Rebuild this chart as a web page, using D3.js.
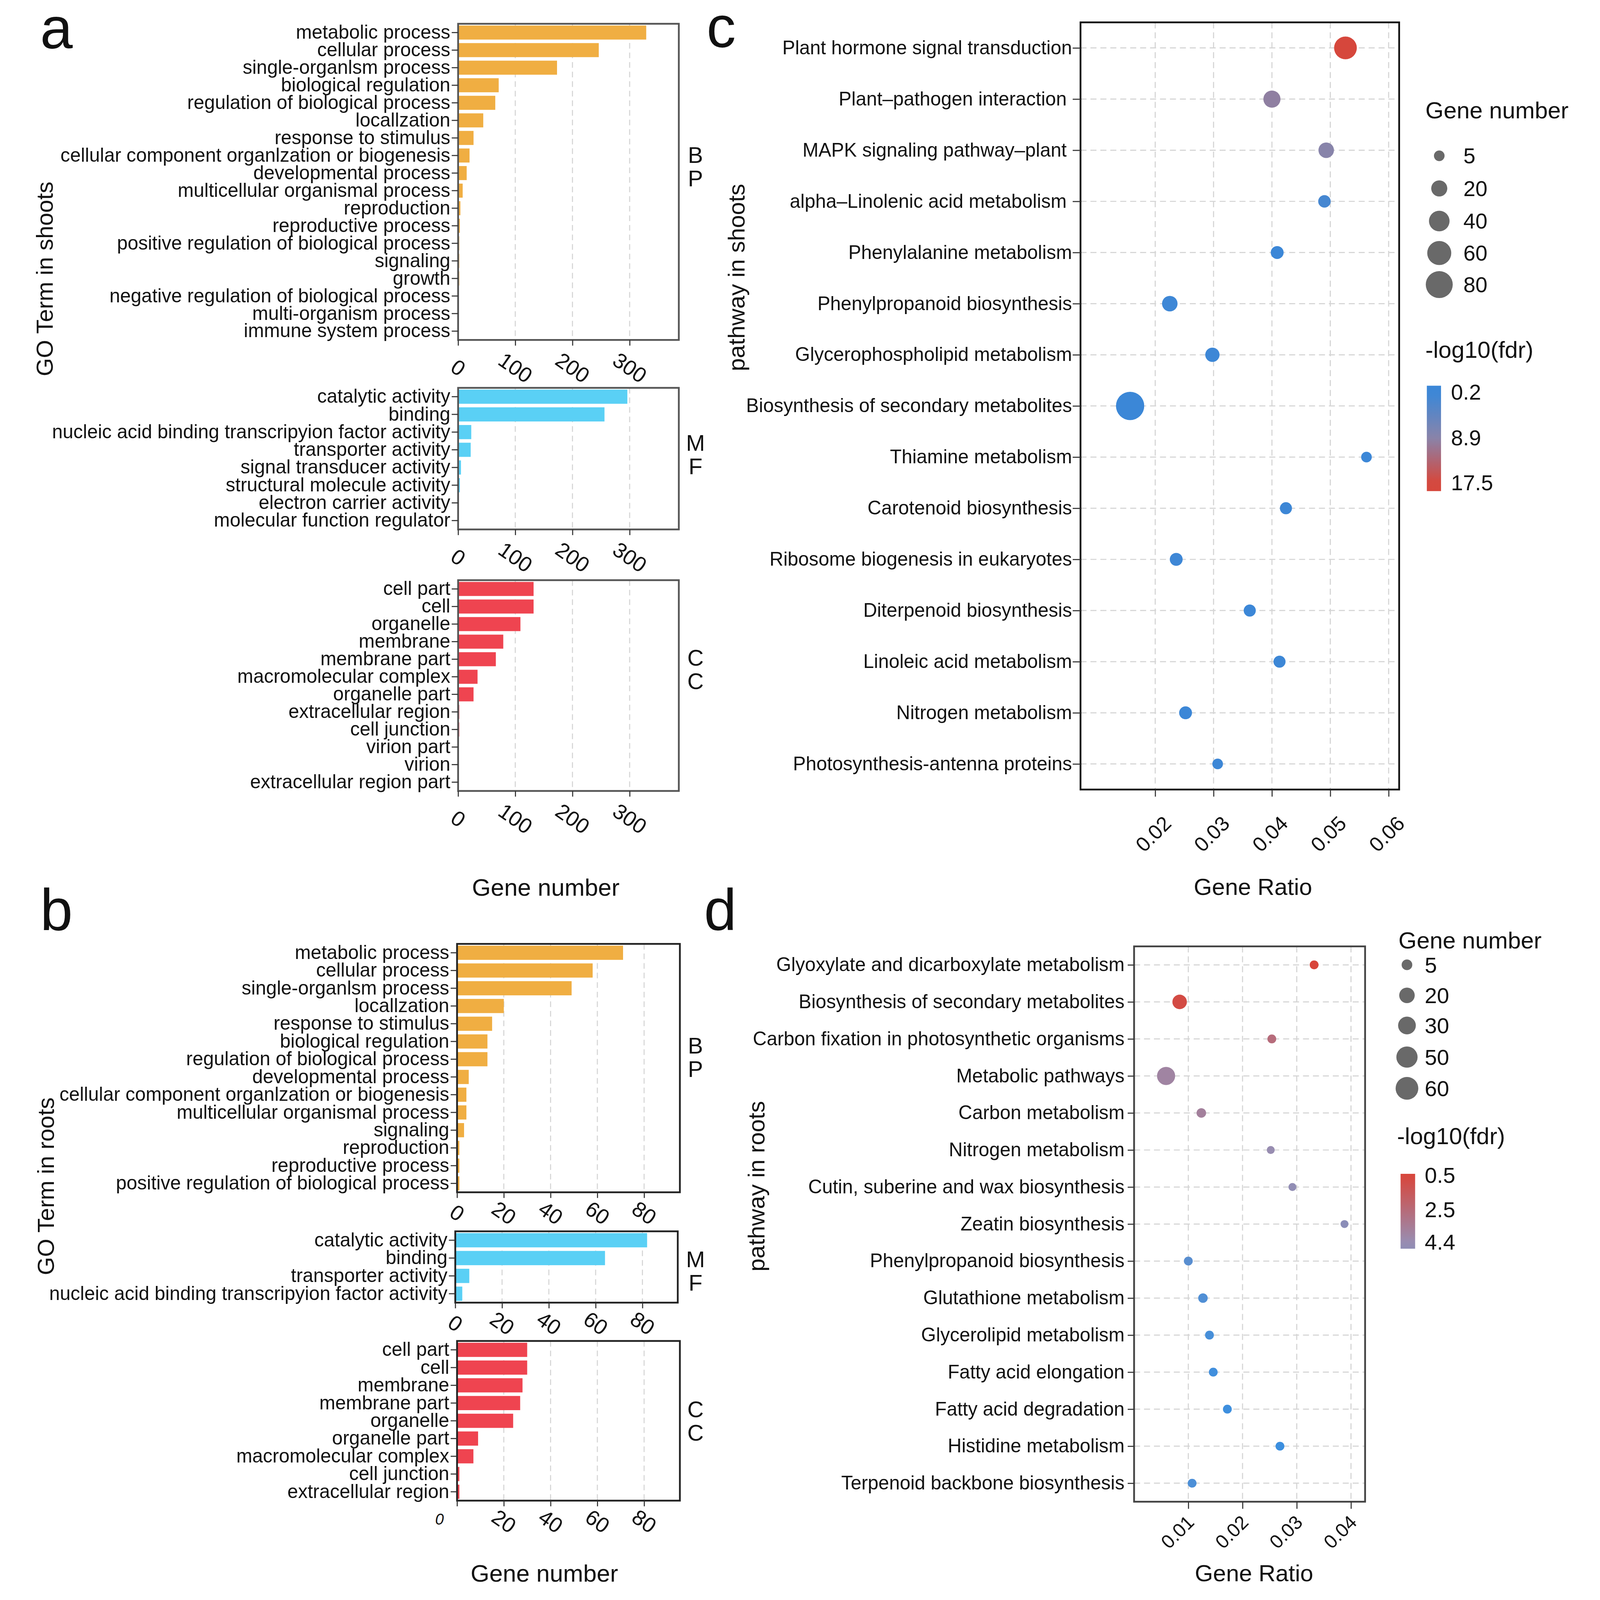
<!DOCTYPE html>
<html>
<head>
<meta charset="utf-8">
<script src="https://cdn.jsdelivr.net/npm/d3@7"></script>
<style>
  html, body { margin: 0; padding: 0; background: #fff; overflow: hidden; }
  svg { display: block; width: 100vw; height: 100vh; }
  text { font-family: "Liberation Sans", Arial, sans-serif; fill: #111; }
</style>
</head>
<body>
<div id="chart"></div>
<script>
// ---- data: GO terms in shoots (a) ----
var bpShootTerms = ["metabolic process", "cellular process", "single-organlsm process", "biological regulation",
  "regulation of biological process", "locallzation", "response to stimulus",
  "cellular component organlzation or biogenesis", "developmental process", "multicellular organismal process",
  "reproduction", "reproductive process", "positive regulation of biological process", "signaling", "growth",
  "negative regulation of biological process", "multi-organism process", "immune system process"];
var bpShootCounts = [329, 246, 173, 71, 65, 44, 27, 20, 15, 8, 4, 3, 2, 2, 2, 1, 1, 1];

var mfShootTerms = ["catalytic activity", "binding", "nucleic acid binding transcripyion factor activity",
  "transporter activity", "signal transducer activity", "structural molecule activity",
  "electron carrier activity", "molecular function regulator"];
var mfShootCounts = [296, 256, 23, 22, 5, 3, 1, 1];

var ccShootTerms = ["cell part", "cell", "organelle", "membrane", "membrane part", "macromolecular complex",
  "organelle part", "extracellular region", "cell junction", "virion part", "virion", "extracellular region part"];
var ccShootCounts = [132, 132, 109, 79, 66, 34, 27, 2, 2, 1, 1, 1];

// ---- data: GO terms in roots (b) ----
var bpRootTerms = ["metabolic process", "cellular process", "single-organlsm process", "locallzation",
  "response to stimulus", "biological regulation", "regulation of biological process", "developmental process",
  "cellular component organlzation or biogenesis", "multicellular organismal process", "signaling",
  "reproduction", "reproductive process", "positive regulation of biological process"];
var bpRootCounts = [71, 58, 49, 20, 15, 13, 13, 5, 4, 4, 3, 1, 1, 1];

var mfRootTerms = ["catalytic activity", "binding", "transporter activity",
  "nucleic acid binding transcripyion factor activity"];
var mfRootCounts = [82, 64, 6, 3];

var ccRootTerms = ["cell part", "cell", "membrane", "membrane part", "organelle", "organelle part",
  "macromolecular complex", "cell junction", "extracellular region"];
var ccRootCounts = [30, 30, 28, 27, 24, 9, 7, 1, 1];

var shootTicks = [0, 100, 200, 300];
var rootTicks = [0, 20, 40, 60, 80];

// ---- data: KEGG pathways in shoots (c) ----
var shootPathways = ["Plant hormone signal transduction", "Plant\u2013pathogen interaction\u00a0",
  "MAPK signaling pathway\u2013plant\u00a0", "alpha\u2013Linolenic acid metabolism\u00a0", "Phenylalanine metabolism",
  "Phenylpropanoid biosynthesis", "Glycerophospholipid metabolism", "Biosynthesis of secondary metabolites",
  "Thiamine metabolism", "Carotenoid biosynthesis", "Ribosome biogenesis in eukaryotes",
  "Diterpenoid biosynthesis", "Linoleic acid metabolism", "Nitrogen metabolism", "Photosynthesis-antenna proteins"];
var shootRatio = [0.0526, 0.0400, 0.0493, 0.0490, 0.0409, 0.0225, 0.0298, 0.0157, 0.0562, 0.0424, 0.0236,
  0.0362, 0.0413, 0.0252, 0.0307];
var shootGenes = [52, 24, 18, 9, 10, 18, 14, 90, 5, 8, 10, 8, 8, 10, 5];
var shootFdr = [17.5, 9.6, 8.9, 1.5, 0.4, 0.6, 0.5, 0.3, 0.4, 0.5, 0.6, 0.4, 0.5, 0.4, 0.5];
var shootRatioTicks = [0.02, 0.03, 0.04, 0.05, 0.06];
var shootSizeBreaks = [5, 20, 40, 60, 80];
var shootFdrBreaks = [0.2, 8.9, 17.5];

// ---- data: KEGG pathways in roots (d) ----
var rootPathways = ["Glyoxylate and dicarboxylate metabolism", "Biosynthesis of secondary metabolites",
  "Carbon fixation in photosynthetic organisms", "Metabolic pathways", "Carbon metabolism",
  "Nitrogen metabolism", "Cutin, suberine and wax biosynthesis", "Zeatin biosynthesis",
  "Phenylpropanoid biosynthesis", "Glutathione metabolism", "Glycerolipid metabolism",
  "Fatty acid elongation", "Fatty acid degradation", "Histidine metabolism", "Terpenoid backbone biosynthesis"];
var rootRatio = [0.0332, 0.0084, 0.0254, 0.0059, 0.0124, 0.0252, 0.0292, 0.0388, 0.0100, 0.0127, 0.0139,
  0.0146, 0.0172, 0.0269, 0.0107];
var rootGenes = [2, 16, 2, 32, 3, 1, 1, 1, 2, 3, 2, 2, 2, 2, 2];
var rootFdr = [0.5, 0.8, 2.6, 3.9, 3.7, 4.4, 4.7, 5.0, 7.2, 7.6, 8.0, 8.3, 8.4, 8.5, 7.8];
var rootRatioTicks = [0.01, 0.02, 0.03, 0.04];
var rootSizeBreaks = [5, 20, 30, 50, 60];
var rootFdrBreaks = [0.5, 2.5, 4.4];

var W = 4451, H = 4509;
var svg = d3.select("#chart").append("svg")
  .attr("viewBox", "0 0 " + W + " " + H)
  .attr("preserveAspectRatio", "xMidYMid meet");
var defs = svg.append("defs");

function addText(x, y, str, size, opt) {
  opt = opt || {};
  var t = svg.append("text").attr("font-size", size).attr("text-anchor", opt.anchor || "start").text(str);
  if (opt.rotate) t.attr("transform", "translate(" + x + "," + y + ") rotate(" + opt.rotate + ")").attr("dy", "0.35em");
  else t.attr("x", x).attr("y", y).attr("dy", opt.dy == null ? "0.35em" : opt.dy);
  return t;
}

function barPanel(terms, counts, o) {
  var g = svg.append("g");
  var x = d3.scaleLinear().domain([0, o.max]).range([o.x0, o.x1]);
  var y = d3.scaleBand().domain(terms).range([o.y0, o.y1]).paddingInner(0.2).paddingOuter(0.1);

  g.selectAll(".grid").data(o.ticks.filter(function(t){ return t > 0; })).enter().append("line")
    .attr("x1", function(d){ return x(d); }).attr("x2", function(d){ return x(d); })
    .attr("y1", o.y0).attr("y2", o.y1)
    .attr("stroke", "#d6d6d6").attr("stroke-width", 3).attr("stroke-dasharray", "16,11");

  g.selectAll(".bar").data(terms).enter().append("rect")
    .attr("x", x(0))
    .attr("y", function(d){ return y(d); })
    .attr("width", function(d, i){ return x(counts[i]) - x(0); })
    .attr("height", y.bandwidth())
    .attr("fill", o.color);

  g.append("rect").attr("x", o.x0).attr("y", o.y0).attr("width", o.x1 - o.x0).attr("height", o.y1 - o.y0)
    .attr("fill", "none").attr("stroke", o.frame).attr("stroke-width", 5);

  var ya = g.append("g").attr("transform", "translate(" + o.x0 + ",0)")
    .call(d3.axisLeft(y).tickSize(18).tickPadding(4));
  ya.attr("font-size", 54).attr("font-family", null).attr("color", "#333");
  ya.select(".domain").remove();
  ya.selectAll("line").attr("stroke-width", 3);

  var xa = g.append("g").attr("transform", "translate(0," + o.y1 + ")")
    .call(d3.axisBottom(x).tickValues(o.ticks).tickSize(16).tickFormat(d3.format("d")));
  xa.attr("font-size", 60).attr("font-family", null).attr("color", "#333");
  xa.select(".domain").remove();
  xa.selectAll("line").attr("stroke-width", 3);
  xa.selectAll("text").attr("y", null).attr("dy", "0.35em").attr("text-anchor", "middle")
    .attr("transform", "translate(0," + o.labelDy + ") rotate(35)");
  if (o.smallZero) {
    xa.selectAll(".tick").filter(function(d){ return d === 0; }).select("text")
      .attr("font-size", 44).attr("font-style", "italic")
      .attr("transform", "translate(-50,52)");
  }

  var cy = (o.y0 + o.y1) / 2 + o.stripDy;
  addText(1931, cy - 33, o.strip[0], 64, {anchor: "middle"});
  addText(1931, cy + 33, o.strip[1], 64, {anchor: "middle"});
}

function dotPanel(names, ratios, genes, fdr, o) {
  var g = svg.append("g");
  var x = d3.scaleLinear().domain(o.xdom).range([o.x0, o.x1]);
  var y = d3.scalePoint().domain(names).range([o.y0, o.y1]).padding(0.5);

  g.selectAll(".vgrid").data(o.ticks).enter().append("line")
    .attr("x1", function(d){ return x(d); }).attr("x2", function(d){ return x(d); })
    .attr("y1", o.y0).attr("y2", o.y1)
    .attr("stroke", "#d4d4d4").attr("stroke-width", 3).attr("stroke-dasharray", "17,11");
  g.selectAll(".hgrid").data(names).enter().append("line")
    .attr("x1", o.x0).attr("x2", o.x1)
    .attr("y1", function(d){ return y(d); }).attr("y2", function(d){ return y(d); })
    .attr("stroke", "#d4d4d4").attr("stroke-width", 3).attr("stroke-dasharray", "17,11");

  g.selectAll(".dot").data(names).enter().append("circle")
    .attr("cx", function(d, i){ return x(ratios[i]); })
    .attr("cy", function(d){ return y(d); })
    .attr("r", function(d, i){ return o.size(genes[i]); })
    .attr("fill", function(d, i){ return o.color(fdr[i]); });

  g.append("rect").attr("x", o.x0).attr("y", o.y0).attr("width", o.x1 - o.x0).attr("height", o.y1 - o.y0)
    .attr("fill", "none").attr("stroke", o.frame).attr("stroke-width", 5);

  var ya = g.append("g").attr("transform", "translate(" + o.x0 + ",0)")
    .call(d3.axisLeft(y).tickSize(o.ytick).tickPadding(o.ypad));
  ya.attr("font-size", 54).attr("font-family", null).attr("color", "#333");
  ya.select(".domain").remove();
  ya.selectAll("line").attr("stroke-width", 3);

  var xa = g.append("g").attr("transform", "translate(0," + o.y1 + ")")
    .call(d3.axisBottom(x).tickValues(o.ticks).tickSize(20).tickFormat(d3.format(".2f")));
  xa.attr("font-size", o.xfs).attr("font-family", null).attr("color", "#333");
  xa.select(".domain").remove();
  xa.selectAll("line").attr("stroke-width", 3);
  xa.selectAll("text").attr("y", null).attr("dy", "0.35em").attr("text-anchor", "end")
    .attr("transform", "translate(" + o.xlab[0] + "," + o.xlab[1] + ") rotate(-45)");
}

function sizeLegend(vals, scale, o) {
  addText(o.x, o.titleY, "Gene number", 66);
  var g = svg.append("g");
  g.selectAll("circle").data(vals).enter().append("circle")
    .attr("cx", o.cx).attr("cy", function(d, i){ return o.ys[i]; })
    .attr("r", function(d){ return scale(d); }).attr("fill", "#696969");
  g.selectAll("text").data(vals).enter().append("text")
    .attr("x", o.lx).attr("y", function(d, i){ return o.ys[i]; }).attr("dy", "0.35em")
    .attr("font-size", o.fs).text(function(d){ return d; });
}

function colorLegend(breaks, color, o) {
  addText(o.x, o.titleY, "-log10(fdr)", 66);
  var pos = d3.scaleLinear().domain([breaks[0], breaks[breaks.length - 1]]).range([o.labY0, o.labY1]);
  var grad = defs.append("linearGradient").attr("id", o.id).attr("x1", 0).attr("y1", 0).attr("x2", 0).attr("y2", 1);
  d3.range(0, 1.0001, 0.1).forEach(function(t){
    var v = pos.invert(o.barY0 + t * (o.barY1 - o.barY0));
    grad.append("stop").attr("offset", t).attr("stop-color", color(v));
  });
  svg.append("rect").attr("x", o.barX).attr("y", o.barY0).attr("width", o.barW).attr("height", o.barY1 - o.barY0)
    .attr("fill", "url(#" + o.id + ")");
  svg.selectAll(".lab-" + o.id).data(breaks).enter().append("text")
    .attr("x", o.lx).attr("y", function(d){ return pos(d); }).attr("dy", "0.35em")
    .attr("font-size", o.fs).text(function(d){ return d; });
}

// ---- panel a ----
var aCol = {x0: 1262, x1: 1884, max: 386, ticks: shootTicks, frame: "#555", labelDy: 78};
barPanel(bpShootTerms, bpShootCounts, Object.assign({}, aCol, {y0: 67, y1: 958, color: "#f0ae42", strip: ["B", "P"], stripDy: -43}));
barPanel(mfShootTerms, mfShootCounts, Object.assign({}, aCol, {y0: 1093, y1: 1492, color: "#5ad0f5", strip: ["M", "F"], stripDy: -12}));
barPanel(ccShootTerms, ccShootCounts, Object.assign({}, aCol, {y0: 1635, y1: 2229, color: "#ef4450", strip: ["C", "C"], stripDy: -46}));

// ---- panel b ----
var bCol = {x0: 1259, x1: 1887, max: 95.3, ticks: rootTicks, frame: "#222", labelDy: 58};
barPanel(bpRootTerms, bpRootCounts, Object.assign({}, bCol, {y0: 2660, y1: 3360, color: "#f0ae42", strip: ["B", "P"], stripDy: -30}));
barPanel(mfRootTerms, mfRootCounts, Object.assign({}, bCol, {x0: 1254, x1: 1881, max: 95.1, y0: 3470, y1: 3671, color: "#5ad0f5", strip: ["M", "F"], stripDy: 11}));
barPanel(ccRootTerms, ccRootCounts, Object.assign({}, bCol, {y0: 3779, y1: 4229, color: "#ef4450", strip: ["C", "C"], stripDy: 0, smallZero: true}));

// ---- panel c ----
var shootSize = d3.scalePow().exponent(0.5).domain([5, 80]).range([15, 38]);
var shootColor = d3.scaleLinear().domain([0.2, 8.85, 17.5]).range(["#3a87d8", "#8884ab", "#d6473c"]).clamp(true);
dotPanel(shootPathways, shootRatio, shootGenes, shootFdr, {
  x0: 3016, x1: 3914, y0: 63, y1: 2225, xdom: [0.0072, 0.0618], ticks: shootRatioTicks,
  size: shootSize, color: shootColor, frame: "#111", ytick: 22, ypad: 2, xfs: 58, xlab: [34, 85]
});
sizeLegend(shootSizeBreaks, shootSize, {x: 3988, titleY: 310, cx: 4027, lx: 4095, fs: 61, ys: [439, 531, 623, 713, 802]});
colorLegend(shootFdrBreaks, shootColor, {id: "gc", x: 3988, titleY: 985, barX: 3992, barW: 40, barY0: 1087, barY1: 1384,
  labY0: 1105, labY1: 1360, lx: 4060, fs: 61});

// ---- panel d ----
var rootSize = d3.scalePow().exponent(0.5).domain([5, 60]).range([15, 32]);
var rootColor = d3.scaleLinear().domain([0.5, 4.4, 8.6]).range(["#d8463b", "#988db1", "#3a8fe0"]).clamp(true);
dotPanel(rootPathways, rootRatio, rootGenes, rootFdr, {
  x0: 3167, x1: 3818, y0: 2667, y1: 4232, xdom: [0, 0.0426], ticks: rootRatioTicks,
  size: rootSize, color: rootColor, frame: "#444", ytick: 18, ypad: 9, xfs: 54, xlab: [6, 48]
});
sizeLegend(rootSizeBreaks, rootSize, {x: 3912, titleY: 2650, cx: 3936, lx: 3986, fs: 62, ys: [2719, 2805, 2890, 2979, 3067]});
colorLegend(rootFdrBreaks, rootColor, {id: "gd", x: 3908, titleY: 3201, barX: 3918, barW: 41, barY0: 3308, barY1: 3519,
  labY0: 3312, labY1: 3500, lx: 3986, fs: 62});

// ---- titles and panel letters ----
addText(96, 786, "GO Term in shoots", 66, {anchor: "middle", rotate: -90});
addText(100, 3343, "GO Term in roots", 66, {anchor: "middle", rotate: -90});
addText(2046, 782, "pathway in shoots", 66, {anchor: "middle", rotate: -90});
addText(2102, 3343, "pathway in roots", 66, {anchor: "middle", rotate: -90});
addText(1509, 2500, "Gene number", 68, {anchor: "middle"});
addText(1505, 4433, "Gene number", 68, {anchor: "middle"});
addText(3502, 2499, "Gene Ratio", 66, {anchor: "middle"});
addText(3505, 4433, "Gene Ratio", 66, {anchor: "middle"});
addText(84, 137, "a", 165, {dy: 0});
addText(84, 2621, "b", 165, {dy: 0});
addText(1962, 133, "c", 165, {dy: 0});
addText(1955, 2621, "d", 165, {dy: 0});
</script>
</body>
</html>
